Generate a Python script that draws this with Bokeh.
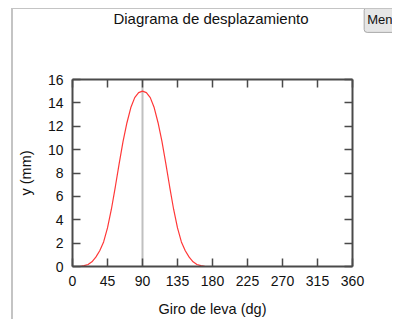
from bokeh.plotting import figure
from bokeh.models import Range1d, LinearAxis, FixedTicker, Span, Label
from bokeh.embed import file_html
from bokeh.resources import INLINE

# ---- data ----
title_text = "Diagrama de desplazamiento"
x_label = "Giro de leva (dg)"
y_label = "y (mm)"
button_text = "Menu"
x_ticks = [0, 45, 90, 135, 180, 225, 270, 315, 360]
y_ticks = [0, 2, 4, 6, 8, 10, 12, 14, 16]
angle_deg = [0, 5, 10, 15, 20, 25, 30, 35, 40, 45, 50, 55, 60, 65, 70, 75, 80, 85,
             90, 95, 100, 105, 110, 115, 120, 125, 130, 135, 140, 145, 150, 155,
             160, 165, 170, 175, 180]
displacement_mm = [0.0, 0.0, 0.02, 0.07, 0.17, 0.4, 0.8, 1.35, 2.1, 3.3, 4.9, 6.8,
                   8.8, 10.7, 12.3, 13.6, 14.45, 14.88,
                   15.0,
                   14.88, 14.45, 13.6, 12.3, 10.7, 8.8, 6.8, 4.9, 3.3, 2.1, 1.35,
                   0.8, 0.4, 0.17, 0.07, 0.02, 0.0, 0.0]
peak_angle = 90

FONT = "Liberation Sans"
AX = "#4a4a4a"

p = figure(width=381, height=311, output_backend="svg", toolbar_location=None,
           margin=(8, 0, 0, 11),
           styles={"border-left": "2px solid #c4c4c4", "border-top": "1px solid #c4c4c4"},
           x_range=Range1d(0, 360), y_range=Range1d(0, 16),
           x_axis_location=None, y_axis_location=None,
           min_border_left=59, min_border_right=42,
           min_border_top=70, min_border_bottom=54)
p.grid.visible = False
p.outline_line_color = None
p.background_fill_color = "white"
p.border_fill_color = "white"


def style(ax, show_labels):
    ax.axis_line_color = AX
    ax.axis_line_width = 2
    ax.major_tick_line_color = AX
    ax.major_tick_line_width = 1.5
    ax.major_tick_in = 8
    ax.major_tick_out = 0
    ax.minor_tick_line_color = None
    ax.major_label_text_font = FONT
    ax.major_label_text_font_size = "14px"
    ax.major_label_text_color = "#111111" if show_labels else None
    ax.axis_label_text_font = FONT
    ax.axis_label_text_font_size = "14.5px"
    ax.axis_label_text_font_style = "normal"
    ax.axis_label_text_color = "#111111"


bottom = LinearAxis(ticker=FixedTicker(ticks=x_ticks), axis_label=x_label)
style(bottom, True)
bottom.major_label_standoff = 9
bottom.axis_label_standoff = 12
p.add_layout(bottom, "below")

left = LinearAxis(ticker=FixedTicker(ticks=y_ticks), axis_label=y_label)
style(left, True)
left.major_label_standoff = 9
left.axis_label_standoff = 11
p.add_layout(left, "left")

top = LinearAxis(ticker=FixedTicker(ticks=x_ticks))
style(top, False)
p.add_layout(top, "above")

right = LinearAxis(ticker=FixedTicker(ticks=y_ticks))
style(right, False)
p.add_layout(right, "right")

p.add_layout(Span(location=peak_angle, dimension="height", line_color="#c0c0c0",
                  line_width=2, level="underlay"))

p.line(angle_deg, displacement_mm, line_color="#ff3838", line_width=1.2)

# title and button, placed in the top panel (not clipped to the frame)
p.add_layout(Label(x=178, y=21.2, text=title_text, text_align="center",
                   text_baseline="alphabetic", text_font=FONT,
                   text_font_size="15px", text_color="#111111"), "above")

p.add_layout(Label(x=375, y=21.1, text=button_text, text_align="left",
                   text_baseline="middle", text_font=FONT, text_font_size="13px",
                   text_color="#111111", background_fill_color="#e6e6e6",
                   border_line_color="#a9a9a9", border_line_width=1,
                   padding=dict(left=3, right=5, top=5, bottom=5),
                   border_radius=3), "above")

open("out.html", "w").write(file_html(p, INLINE))
